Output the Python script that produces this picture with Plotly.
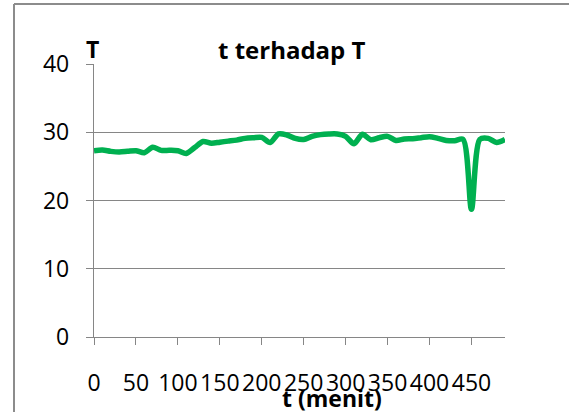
import plotly.graph_objects as go

# Data
t_menit = list(range(0, 500, 10))
T_values = [27.3, 27.4, 27.2, 27.1, 27.2, 27.3, 27.0, 27.8, 27.35, 27.35,
            27.3, 26.9, 27.75, 28.65, 28.4, 28.55, 28.7, 28.85, 29.1, 29.2,
            29.25, 28.5, 29.75, 29.6, 29.1, 28.95, 29.4, 29.65, 29.75, 29.75,
            29.4, 28.3, 29.7, 28.9, 29.2, 29.4, 28.8, 29.0, 29.05, 29.2,
            29.35, 29.1, 28.8, 28.75, 28.95, 18.7, 28.95, 29.1, 28.5, 28.95]
x_ticks = [0, 50, 100, 150, 200, 250, 300, 350, 400, 450]
y_ticks = [0, 10, 20, 30, 40]

W, H = 569, 412
L, R, T, B = 94, 64, 64, 75
FONT = "Open Sans"
GRID = "#868686"

def px_x(p):
    return (p - L) / (W - L - R)

def px_y(p):
    return (H - B - p) / (H - T - B)

fig = go.Figure()
fig.add_trace(go.Scatter(
    x=t_menit, y=T_values, mode="lines",
    line=dict(color="#00B050", width=5.5, shape="spline", smoothing=0.8),
    hoverinfo="skip", showlegend=False, cliponaxis=False,
))

fig.update_layout(
    width=W, height=H,
    margin=dict(l=L, r=R, t=T, b=B),
    paper_bgcolor="white", plot_bgcolor="white",
    font=dict(family=FONT, size=23, color="black"),
    xaxis=dict(
        range=[0, 490], tickvals=x_ticks, ticktext=[str(v) for v in x_ticks],
        showgrid=False, zeroline=False, showline=True, linecolor=GRID, linewidth=1.3,
        ticks="outside", ticklen=7, tickcolor=GRID, tickwidth=1.3,
        ticklabelstandoff=18, tickfont=dict(size=23, family=FONT),
    ),
    yaxis=dict(
        range=[0, 40], tickvals=y_ticks,
        showgrid=True, gridcolor=GRID, gridwidth=1.3, zeroline=False,
        showline=True, linecolor=GRID, linewidth=1.3,
        ticks="outside", ticklen=7, tickcolor=GRID, tickwidth=1.3,
        ticklabelstandoff=12, tickfont=dict(size=23, family=FONT),
    ),
    shapes=[
        dict(type="line", xref="paper", yref="paper",
             x0=px_x(14), x1=px_x(W + 5), y0=px_y(4), y1=px_y(4),
             line=dict(color="#8c8c8c", width=2)),
        dict(type="line", xref="paper", yref="paper",
             x0=px_x(14), x1=px_x(14), y0=px_y(4), y1=px_y(H + 5),
             line=dict(color="#8c8c8c", width=2)),
    ],
    annotations=[
        dict(text="<b>t terhadap T</b>", xref="paper", yref="paper",
             x=px_x(292), y=px_y(50), showarrow=False,
             font=dict(size=24, family=FONT), xanchor="center", yanchor="middle"),
        dict(text="<b>T</b>", xref="paper", yref="paper",
             x=px_x(92.5), y=px_y(49), showarrow=False,
             font=dict(size=23, family=FONT), xanchor="center", yanchor="middle"),
        dict(text="<b>t (menit)</b>", xref="paper", yref="paper",
             x=px_x(332), y=px_y(398), showarrow=False,
             font=dict(size=23, family=FONT), xanchor="center", yanchor="middle"),
    ],
)

fig.write_html("out.html", config={"displayModeBar": False},
               post_script="document.body.style.margin='0';document.body.style.overflow='hidden';")
